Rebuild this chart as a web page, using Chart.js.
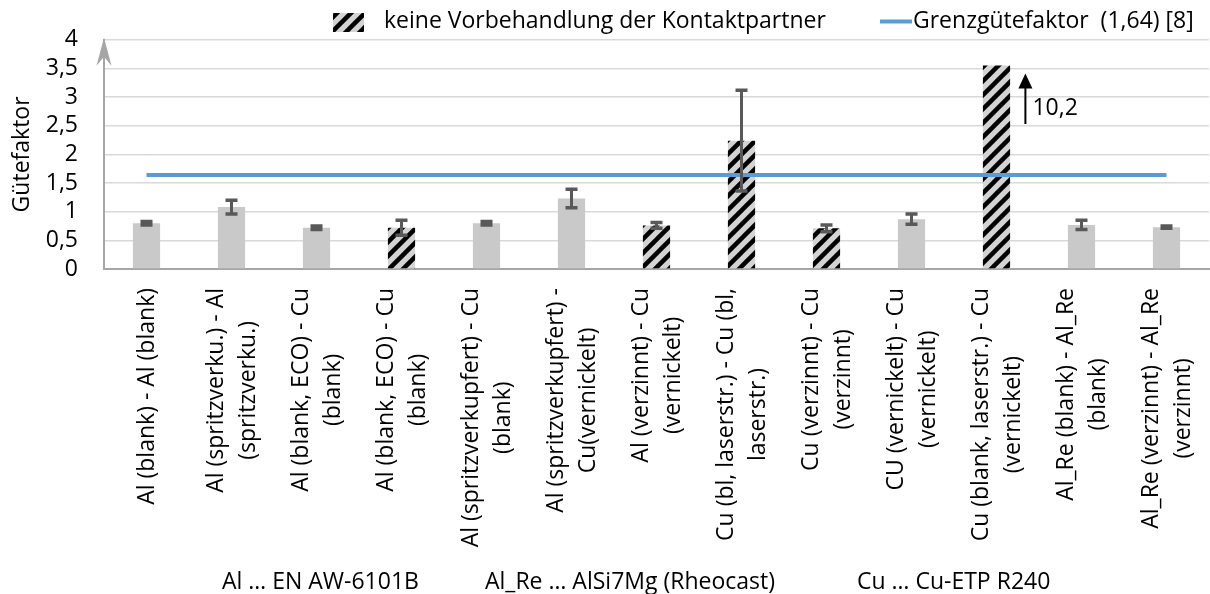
<!DOCTYPE html>
<html>
<head>
<meta charset="utf-8">
<script src="https://cdn.jsdelivr.net/npm/chart.js@4.4.1/dist/chart.umd.min.js"></script>
<style>
  html, body { margin: 0; padding: 0; background: #fff; }
  #wrap { width: 1210px; height: 594px; }
</style>
</head>
<body>
<div id="wrap"><canvas id="gf-chart" width="1210" height="594"></canvas></div>
<script>
// ── Daten ─────────────────────────────────────────────
const categories = [
  ['Al (blank) - Al (blank)'],
  ['Al (spritzverku.) - Al', '(spritzverku.)'],
  ['Al (blank, ECO) - Cu', '(blank)'],
  ['Al (blank, ECO) - Cu', '(blank)'],
  ['Al (spritzverkupfert) - Cu', '(blank)'],
  ['Al (spritzverkupfert) -', 'Cu(vernickelt)'],
  ['Al (verzinnt) - Cu', '(vernickelt)'],
  ['Cu (bl, laserstr.) - Cu (bl,', 'laserstr.)'],
  ['Cu (verzinnt) - Cu', '(verzinnt)'],
  ['CU (vernickelt) - Cu', '(vernickelt)'],
  ['Cu (blank, laserstr.) - Cu', '(vernickelt)'],
  ['Al_Re (blank) - Al_Re', '(blank)'],
  ['Al_Re (verzinnt) - Al_Re', '(verzinnt)'],
];
const guetefaktor = [0.80, 1.08, 0.72, 0.72, 0.80, 1.23, 0.76, 2.24, 0.71, 0.87, 3.55, 0.77, 0.73];
const fehler      = [0.03, 0.12, 0.03, 0.13, 0.03, 0.16, 0.05, 0.88, 0.06, 0.09, 0,    0.08, 0.02];
const ohneVorbeh  = [0, 0, 0, 1, 0, 0, 1, 1, 1, 0, 1, 0, 0];   // schraffiert
const grenzwert   = 1.64;
const yTicks      = [0, 0.5, 1, 1.5, 2, 2.5, 3, 3.5, 4];

// abgeschnittener Balken (Cu blank, laserstr.) → Pfeil mit Wert
const clipIndex = 10;
const clipLabel = '10,2';
const clipArrow = [2.53, 3.41];

const legendBars = 'keine Vorbehandlung der Kontaktpartner';
const legendLine = 'Grenzgütefaktor  (1,64) [8]';
const xTitleParts = ['Al … EN AW-6101B', 'Al_Re … AlSi7Mg (Rheocast)', 'Cu … Cu-ETP R240'];

// ── Stil ──────────────────────────────────────────────
const FONT  = '"Open Sans", sans-serif';
const GRAY  = '#C9C9C9';
const BLUE  = '#5B9BD5';
const AXIS  = '#A6A6A6';
const GRID  = '#D9D9D9';
const ERR   = '#595959';

Chart.defaults.font.family = FONT;
Chart.defaults.font.size = 23;
Chart.defaults.color = '#000';

const canvas = document.getElementById('gf-chart');
const ctx0 = canvas.getContext('2d');

// Schraffur-Muster "/"
function makeHatch() {
  const s = 14;
  const tile = document.createElement('canvas');
  tile.width = tile.height = s;
  const t = tile.getContext('2d');
  t.fillStyle = '#D3D3D3';
  t.fillRect(0, 0, s, s);
  t.strokeStyle = '#000';
  t.lineWidth = 4.5;
  t.beginPath();
  t.moveTo(-2, s + 2); t.lineTo(s + 2, -2);
  t.moveTo(-2, 2);     t.lineTo(2, -2);
  t.moveTo(s - 2, s + 2); t.lineTo(s + 2, s - 2);
  t.stroke();
  return ctx0.createPattern(tile, 'repeat');
}
const hatch = makeHatch();

// ── Overlay: Fehlerbalken, Achsbeschriftung, Legende ──
const overlay = {
  id: 'overlay',
  afterDatasetsDraw(chart) {
    const { ctx } = chart;
    const y = chart.scales.y;
    const bars = chart.getDatasetMeta(1).data;
    ctx.save();
    ctx.strokeStyle = ERR;
    bars.forEach((b, i) => {
      const e = fehler[i];
      if (!e) return;
      const t = y.getPixelForValue(guetefaktor[i] + e);
      const u = y.getPixelForValue(guetefaktor[i] - e);
      ctx.lineWidth = 3;
      ctx.beginPath();
      ctx.moveTo(b.x, t); ctx.lineTo(b.x, u);
      ctx.stroke();
      ctx.lineWidth = 3.5;
      ctx.beginPath();
      ctx.moveTo(b.x - 6, t); ctx.lineTo(b.x + 6, t);
      ctx.moveTo(b.x - 6, u); ctx.lineTo(b.x + 6, u);
      ctx.stroke();
    });
    ctx.restore();
  },
  afterDraw(chart) {
    const { ctx, chartArea: area } = chart;
    const x = chart.scales.x, y = chart.scales.y;
    ctx.save();

    // Pfeilspitze der y-Achse
    ctx.fillStyle = AXIS;
    ctx.beginPath();
    ctx.moveTo(area.left, area.top - 2);
    ctx.lineTo(area.left - 7.5, area.top + 26);
    ctx.lineTo(area.left, area.top + 17);
    ctx.lineTo(area.left + 7.5, area.top + 26);
    ctx.closePath();
    ctx.fill();

    // x-Beschriftungen (gedreht, zentriert)
    ctx.font = '23px ' + FONT;
    ctx.fillStyle = '#000';
    ctx.textAlign = 'center';
    ctx.textBaseline = 'middle';
    categories.forEach((lines, i) => {
      const cx = x.getPixelForValue(i) + 1;
      const maxW = Math.max(...lines.map(l => ctx.measureText(l).width));
      const cy = area.bottom + 19 + maxW / 2;
      lines.forEach((l, j) => {
        ctx.save();
        ctx.translate(cx + (j - (lines.length - 1) / 2) * 32, cy);
        ctx.rotate(-Math.PI / 2);
        ctx.fillText(l, 0, 0);
        ctx.restore();
      });
    });

    // Achsentitel unten
    ctx.textAlign = 'left';
    ctx.textBaseline = 'alphabetic';
    [222, 485, 857].forEach((px, i) => ctx.fillText(xTitleParts[i], px, 589));

    // Legende
    ctx.fillStyle = '#fff';
    ctx.fillRect(328, 6, 882, 32);
    ctx.fillStyle = hatch;
    ctx.fillRect(333, 13, 31, 19);
    ctx.fillStyle = '#000';
    ctx.fillText(legendBars, 384, 28);
    ctx.strokeStyle = BLUE;
    ctx.lineWidth = 4;
    ctx.beginPath();
    ctx.moveTo(880, 21.5); ctx.lineTo(912, 21.5);
    ctx.stroke();
    ctx.fillText(legendLine, 913, 28);

    // Pfeil für abgeschnittenen Wert
    const band = x.getPixelForValue(1) - x.getPixelForValue(0);
    const ax = x.getPixelForValue(clipIndex) + band * 0.34;
    const y0 = y.getPixelForValue(clipArrow[0]);
    const y1 = y.getPixelForValue(clipArrow[1]);
    ctx.strokeStyle = '#000';
    ctx.lineWidth = 2;
    ctx.beginPath();
    ctx.moveTo(ax, y0); ctx.lineTo(ax, y1 + 12);
    ctx.stroke();
    ctx.beginPath();
    ctx.moveTo(ax, y1);
    ctx.lineTo(ax - 7, y1 + 15);
    ctx.lineTo(ax + 7, y1 + 15);
    ctx.closePath();
    ctx.fill();
    ctx.fillText(clipLabel, ax + 7, y.getPixelForValue(2.68));

    ctx.restore();
  },
};

new Chart(canvas, {
  data: {
    labels: categories.map(c => c.join(' ')),
    datasets: [
      {
        type: 'line',
        label: legendLine,
        data: categories.map(() => grenzwert),
        borderColor: BLUE,
        borderWidth: 4,
        pointRadius: 0,
        order: 0,
      },
      {
        type: 'bar',
        label: legendBars,
        data: guetefaktor,
        backgroundColor: ohneVorbeh.map(h => h ? hatch : GRAY),
        borderWidth: 0,
        categoryPercentage: 1,
        barPercentage: 0.32,
        order: 1,
      },
    ],
  },
  options: {
    responsive: false,
    animation: false,
    devicePixelRatio: 1,
    layout: { padding: { top: 21, right: 1, bottom: 0, left: 0 } },
    plugins: { legend: { display: false }, tooltip: { enabled: false } },
    scales: {
      x: {
        type: 'category',
        offset: true,
        grid: { display: false },
        border: { display: true, color: AXIS, width: 2 },
        ticks: { display: false },
        afterFit: s => { s.height = 325; },
      },
      y: {
        min: 0,
        max: 4,
        afterBuildTicks: s => { s.ticks = yTicks.map(v => ({ value: v })); },
        grid: { color: GRID, lineWidth: 1.5, drawTicks: false },
        border: { display: true, color: AXIS, width: 2 },
        ticks: {
          autoSkip: false,
          padding: 26,
          font: { size: 23 },
          callback: v => String(v).replace('.', ','),
        },
        title: {
          display: true,
          text: 'Gütefaktor',
          font: { size: 23 },
          padding: { top: 9, bottom: 0 },
        },
        afterFit: s => { s.width = 104; },
      },
    },
  },
  plugins: [overlay],
});
</script>
</body>
</html>
